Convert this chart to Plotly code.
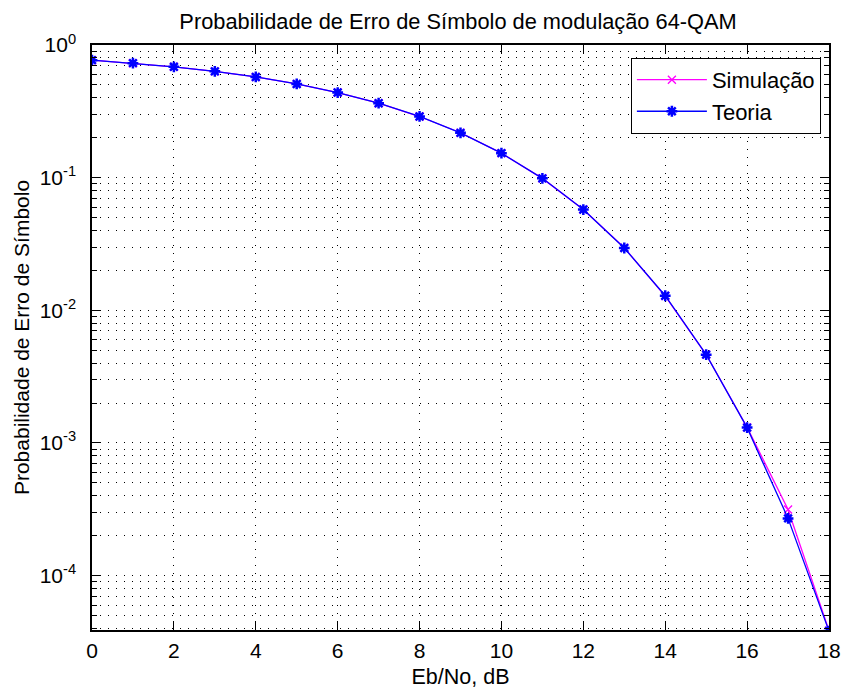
import plotly.graph_objects as go

ebno_db = [0, 1, 2, 3, 4, 5, 6, 7, 8, 9, 10, 11, 12, 13, 14, 15, 16, 17, 18]
ser_sim = [0.768, 0.729, 0.685, 0.633, 0.574, 0.509, 0.438, 0.364, 0.289, 0.218,
           0.153, 0.0987, 0.0576, 0.0296, 0.0128, 0.00464, 0.00131, 0.000315, 0.0000385]
ser_teo = [0.7687, 0.7296, 0.6846, 0.6327, 0.5741, 0.5087, 0.4382, 0.3640, 0.2894, 0.2177,
           0.1530, 0.0988, 0.0575, 0.0295, 0.01288, 0.004632, 0.001305, 0.000270, 0.0000382]
x_ticks = [0, 2, 4, 6, 8, 10, 12, 14, 16, 18]
y_ticks = [1e-4, 1e-3, 1e-2, 1e-1, 1]
y_ticktext = ["10<sup>-4</sup>", "10<sup>-3</sup>", "10<sup>-2</sup>", "10<sup>-1</sup>", "10<sup>0</sup>"]
y_minor = [m * d for d in [1e-5, 1e-4, 1e-3, 1e-2, 1e-1] for m in range(2, 10)]

FONT = "Liberation Sans, Arial, sans-serif"
GRIDDASH = "1px,7px"

fig = go.Figure()
fig.add_trace(go.Scatter(
    x=ebno_db, y=ser_sim, mode="lines+markers", name="Simulação",
    line=dict(color="#FF00FF", width=1.3),
    marker=dict(symbol="x-thin-open", size=8, color="#FF00FF",
                line=dict(color="#FF00FF", width=1.3)),
))
fig.add_trace(go.Scatter(
    x=ebno_db, y=ser_teo, mode="lines+markers", name="Teoria",
    line=dict(color="#0000FF", width=1.3),
    marker=dict(symbol="asterisk-open", size=9, color="#0000FF",
                line=dict(color="#0000FF", width=2.5)),
))

fig.update_layout(
    width=844, height=692,
    margin=dict(l=92, r=15, t=45, b=62, autoexpand=False),
    paper_bgcolor="white", plot_bgcolor="white",
    font=dict(family=FONT, size=21, color="black"),
    title=dict(text="Probabilidade de Erro de Símbolo de modulação 64-QAM",
               x=0.5427, xanchor="center", y=1 - 21 / 692, yanchor="middle",
               font=dict(size=21.8, color="black")),
    showlegend=True,
    legend=dict(x=0.989, y=0.978, xanchor="right", yanchor="top",
                bgcolor="white", bordercolor="black", borderwidth=1,
                itemwidth=70, font=dict(size=22, color="black")),
)

fig.update_xaxes(
    range=[0, 18], tickmode="array", tickvals=x_ticks, automargin=False,
    ticks="inside", ticklen=9, tickwidth=1, tickcolor="black",
    showline=True, linecolor="black", linewidth=1.5, mirror="allticks",
    showgrid=True, gridcolor="black", gridwidth=1, griddash=GRIDDASH,
    zeroline=False, tickfont=dict(size=21), ticklabelstandoff=1,
    title=dict(text="Eb/No, dB", font=dict(size=21.5), standoff=8),
)
fig.update_yaxes(
    type="log", range=[-4.41, 0], tickmode="array", tickvals=y_ticks, ticktext=y_ticktext,
    automargin=False,
    ticks="inside", ticklen=9, tickwidth=1, tickcolor="black",
    showline=True, linecolor="black", linewidth=1.5, mirror="allticks",
    showgrid=True, gridcolor="black", gridwidth=1, griddash=GRIDDASH,
    zeroline=False, tickfont=dict(size=21), ticklabelstandoff=10,
    minor=dict(tickmode="array", tickvals=y_minor, ticks="inside", ticklen=5,
               tickcolor="black", showgrid=True, gridcolor="black", gridwidth=1,
               griddash=GRIDDASH),
    title=dict(text="Probabilidade de Erro de Símbolo", font=dict(size=21), standoff=4),
)

fig.write_html("out.html")
